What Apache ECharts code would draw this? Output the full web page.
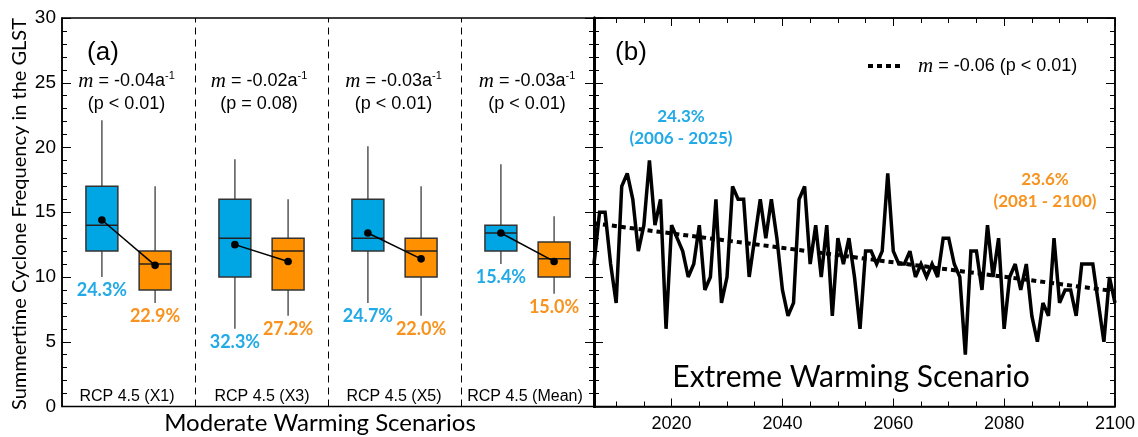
<!DOCTYPE html>
<html><head><meta charset="utf-8">
<script src="https://cdn.jsdelivr.net/npm/echarts@6/dist/echarts.min.js"></script>
<style>html,body{margin:0;padding:0;background:#fff}#c{width:1138px;height:437px}</style>
</head><body><div id="c"></div>
<script>
// ---------- Panel (a) data ----------
const scenarios = ['RCP 4.5 (X1)', 'RCP 4.5 (X3)', 'RCP 4.5 (X5)', 'RCP 4.5 (Mean)'];
const slopeText = ['-0.04', '-0.02', '-0.03', '-0.03'];
const pText = ['(p < 0.01)', '(p = 0.08)', '(p < 0.01)', '(p < 0.01)'];
// [min, q1, median, q3, max]
const earlyBoxes = [[10, 12, 14, 17, 22.1], [6, 10, 13, 16, 19.1], [8, 12, 13, 16, 20.1], [11, 12, 13.4, 14, 18.7]];
const lateBoxes = [[8, 9, 11, 12, 17], [7, 9, 12, 13, 16], [7, 10, 12, 13, 17], [8.7, 10, 11.4, 12.7, 14.7]];
const earlyMeans = [14.4, 12.5, 13.4, 13.4];
const lateMeans = [10.9, 11.2, 11.4, 11.2];
const earlyPct = ['24.3%', '32.3%', '24.7%', '15.4%'];
const latePct = ['22.9%', '27.2%', '22.0%', '15.0%'];

// ---------- Panel (b) data ----------
const startYear = 2006;
const counts = [11, 15, 15, 11, 8, 17, 18, 16, 12, 14, 19, 14, 16, 6, 14, 13, 12, 10, 11, 14,
  9, 10, 16, 8, 10, 17, 16, 16, 10, 13, 16, 13, 16, 13, 9, 7, 8, 16, 17, 11,
  14, 10, 14, 7, 13, 11, 13, 10, 6, 12, 12, 11, 12, 18, 12, 11, 11, 12, 10, 11,
  10, 11, 10, 13, 13, 11, 10, 4, 12, 12, 9, 14, 10, 13, 6, 10, 11, 9, 11, 7,
  5, 8, 7, 13, 8, 9, 9, 7, 11, 11, 11, 8, 5, 10, 8];
const trendYears = [2006, 2100];
const trendValues = [14.15, 8.9];

const BLUE = '#00a6e4', ORANGE = '#ff9100', BLUE_T = '#22aae6', ORANGE_T = '#f7931e';
const SANS = 'Liberation Sans', MYR = 'Lato';

const lineData = counts.map((v, i) => [startYear + i, v]);
const trendData = trendYears.map((y, i) => [y, trendValues[i]]);

function boxData(boxes, off) { return boxes.map((b, i) => [i + off].concat(b)); }

function boxRender(color, labelColor, pcts) {
  return function (params, api) {
    const x = api.value(0);
    const pMin = api.coord([x, api.value(1)]);
    const pQ1 = api.coord([x, api.value(2)]);
    const pMed = api.coord([x, api.value(3)]);
    const pQ3 = api.coord([x, api.value(4)]);
    const pMax = api.coord([x, api.value(5)]);
    const w = api.size([0.24, 0])[0];
    const cx = pMin[0];
    return {
      type: 'group', children: [
        { type: 'line', shape: { x1: cx, y1: pMax[1], x2: cx, y2: pQ3[1] }, style: { stroke: '#555', lineWidth: 1.5 } },
        { type: 'line', shape: { x1: cx, y1: pQ1[1], x2: cx, y2: pMin[1] }, style: { stroke: '#555', lineWidth: 1.5 } },
        { type: 'rect', shape: { x: cx - w / 2, y: pQ3[1], width: w, height: pQ1[1] - pQ3[1] }, style: { fill: color, stroke: '#333', lineWidth: 1.5 } },
        { type: 'line', shape: { x1: cx - w / 2, y1: pMed[1], x2: cx + w / 2, y2: pMed[1] }, style: { stroke: '#222', lineWidth: 1.5 } },
        { type: 'text', x: cx, y: pMin[1] + 13, style: { text: pcts[params.dataIndex], fill: labelColor, fontSize: 18, fontWeight: 'bold', fontFamily: MYR, align: 'center', verticalAlign: 'middle' } }
      ]
    };
  };
}

const meanData = earlyMeans.map((m, i) => [i + 0.3, m, i + 0.7, lateMeans[i]]);

const chart = echarts.init(document.getElementById('c'), null, { renderer: 'canvas' });

const tickStyle = { color: '#000', width: 1 };
function yAx(gridIndex, pos, showLabel, lineW) {
  return {
    type: 'value', gridIndex, position: pos, min: 0, max: 30, interval: 5,
    axisLine: { show: true, onZero: false, lineStyle: { color: '#000', width: lineW } },
    axisTick: { show: true, inside: true, length: 9, lineStyle: tickStyle },
    minorTick: { show: true, splitNumber: 5, length: 5, lineStyle: tickStyle },
    axisLabel: { show: showLabel, fontSize: 19, fontFamily: SANS, color: '#000', margin: 6 },
    splitLine: { show: false }, minorSplitLine: { show: false }
  };
}
function xYearAx(pos, major, showLabel, showLine) {
  return {
    type: 'value', gridIndex: 1, position: pos, min: 2006, max: 2100,
    splitNumber: major ? 5 : 19,
    axisLine: { show: showLine, onZero: false, lineStyle: { color: '#000', width: 1.5 } },
    axisTick: { show: true, inside: true, length: major ? 8 : 5, lineStyle: tickStyle },
    axisLabel: { show: showLabel, showMinLabel: false, fontSize: 18, fontFamily: SANS, color: '#000', margin: 9,
      formatter: v => String(v) },
    splitLine: { show: false }
  };
}

function txt(x, y, text, size, opts) {
  return Object.assign({
    type: 'text', x, y, style: Object.assign({
      text, fontSize: size, fontFamily: SANS, fill: '#000', align: 'center', verticalAlign: 'middle'
    }, (opts && opts.style) || {})
  }, (opts && opts.el) || {});
}

const graphics = [];
graphics.push(txt(103, 53, '(a)', 26));
graphics.push(txt(631, 53, '(b)', 26));
const subCenters = [126.5, 259, 393.5, 527];
const rcpCenters = [127, 262, 394, 525];
scenarios.forEach((s, i) => {
  graphics.push(txt(subCenters[i], 81, '{m|m} = ' + slopeText[i] + 'a{s|-1}', 18, {
    style: { rich: { m: { fontFamily: 'Liberation Serif', fontStyle: 'italic', fontSize: 21 }, s: { fontSize: 11, verticalAlign: 'top', fontFamily: SANS } } }
  }));
  graphics.push(txt(subCenters[i], 104, pText[i], 18));
  graphics.push(txt(rcpCenters[i], 397, s, 16));
});
graphics.push(txt(320, 423, 'Moderate Warming Scenarios', 24, { style: { fontFamily: MYR } }));
graphics.push(txt(851, 377, 'Extreme Warming Scenario', 30, { style: { fontFamily: MYR } }));
graphics.push(txt(20, 214, 'Summertime Cyclone Frequency in the GLST', 20, { el: { rotation: Math.PI / 2 }, style: { fontFamily: MYR } }));
graphics.push(txt(681, 117, '24.3%', 17, { style: { fill: BLUE_T, fontWeight: 'bold', fontFamily: MYR } }));
graphics.push(txt(681, 139, '(2006 - 2025)', 17, { style: { fill: BLUE_T, fontWeight: 'bold', fontFamily: MYR } }));
graphics.push(txt(1045, 180, '23.6%', 17, { style: { fill: ORANGE_T, fontWeight: 'bold', fontFamily: MYR } }));
graphics.push(txt(1045, 202, '(2081 - 2100)', 17, { style: { fill: ORANGE_T, fontWeight: 'bold', fontFamily: MYR } }));
graphics.push({ type: 'line', shape: { x1: 868, y1: 66, x2: 901, y2: 66 }, style: { stroke: '#000', lineWidth: 4, lineDash: [5, 4] } });
graphics.push(txt(918, 66, '{m|m} = -0.06 (p < 0.01)', 18, {
  style: { align: 'left', rich: { m: { fontFamily: 'Liberation Serif', fontStyle: 'italic', fontSize: 21 } } }
}));

const option = {
  animation: false,
  backgroundColor: '#fff',
  grid: [
    { left: 62, right: 544, top: 18, bottom: 30.5, show: true, borderColor: '#000', borderWidth: 1.5 },
    { left: 594, right: 20, top: 18, bottom: 30.5, show: true, borderColor: '#000', borderWidth: 1.5 }
  ],
  xAxis: [
    { type: 'value', gridIndex: 0, min: 0, max: 4, show: false },
    xYearAx('bottom', true, true, true),
    xYearAx('bottom', false, false, false),
    xYearAx('top', true, false, true),
    xYearAx('top', false, false, false)
  ],
  yAxis: [
    yAx(0, 'left', true, 1.5),
    yAx(0, 'right', false, 3),
    yAx(1, 'left', false, 3),
    yAx(1, 'right', false, 1.5)
  ],
  series: [
    {
      type: 'custom', xAxisIndex: 0, yAxisIndex: 0, z: 3,
      data: boxData(earlyBoxes, 0.3), encode: { x: 0, y: [1, 5] },
      renderItem: boxRender(BLUE, BLUE_T, earlyPct),
      markLine: {
        silent: true, symbol: 'none', label: { show: false },
        lineStyle: { color: '#000', width: 1, type: [7, 5] },
        data: [{ xAxis: 1 }, { xAxis: 2 }, { xAxis: 3 }]
      }
    },
    {
      type: 'custom', xAxisIndex: 0, yAxisIndex: 0, z: 3,
      data: boxData(lateBoxes, 0.7), encode: { x: 0, y: [1, 5] },
      renderItem: boxRender(ORANGE, ORANGE_T, latePct)
    },
    {
      type: 'custom', xAxisIndex: 0, yAxisIndex: 0, z: 5,
      data: meanData, encode: { x: [0, 2], y: [1, 3] },
      renderItem: function (params, api) {
        const a = api.coord([api.value(0), api.value(1)]);
        const b = api.coord([api.value(2), api.value(3)]);
        return {
          type: 'group', children: [
            { type: 'line', shape: { x1: a[0], y1: a[1], x2: b[0], y2: b[1] }, style: { stroke: '#000', lineWidth: 1.5 } },
            { type: 'circle', shape: { cx: a[0], cy: a[1], r: 3.8 }, style: { fill: '#000' } },
            { type: 'circle', shape: { cx: b[0], cy: b[1], r: 3.8 }, style: { fill: '#000' } }
          ]
        };
      }
    },
    {
      type: 'line', xAxisIndex: 1, yAxisIndex: 2, data: lineData, showSymbol: false, symbol: 'none',
      lineStyle: { color: '#000', width: 3.5, join: 'miter', miterLimit: 3 }, z: 4
    },
    {
      type: 'line', xAxisIndex: 1, yAxisIndex: 2, data: trendData, showSymbol: false, symbol: 'none',
      lineStyle: { color: '#000', width: 4, type: [5, 4] }, z: 3
    }
  ],
  graphic: graphics
};
chart.setOption(option);
</script>
</body></html>
